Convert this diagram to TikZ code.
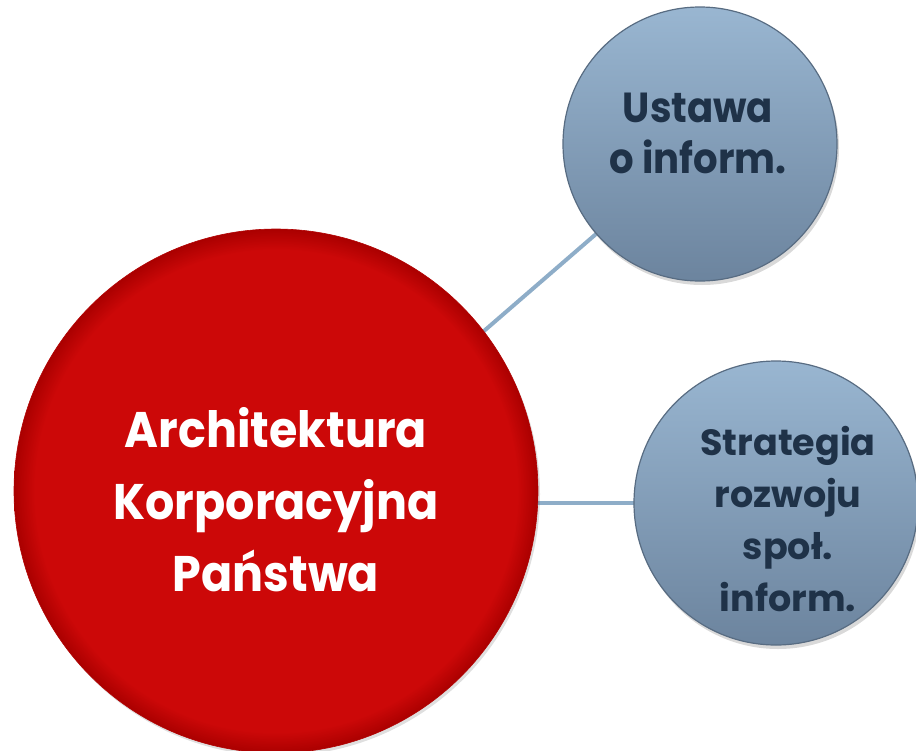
\documentclass[tikz,border=0pt]{standalone}
\usepackage{fontspec}
\setmainfont{Poppins}
\newfontfamily\narrowpop{Poppins}[FakeStretch=0.92]
\usetikzlibrary{shadows,backgrounds}
\definecolor{redfill}{RGB}{204,8,8}
\definecolor{reddark}{RGB}{170,0,0}
\definecolor{bluetop}{RGB}{153,182,209}
\definecolor{bluebot}{RGB}{108,132,158}
\definecolor{bluerim}{RGB}{88,108,130}
\definecolor{linkcol}{RGB}{142,173,200}
\definecolor{navy}{RGB}{31,50,72}
\pgfdeclareradialshading{redball}{\pgfpoint{0bp}{0bp}}{color(0bp)=(redfill); color(23bp)=(redfill); color(25bp)=(reddark); color(50bp)=(reddark)}
\tikzset{
  bigball/.style={circle, inner sep=0pt, shading=redball, draw=reddark!80!redfill, line width=0.6pt,
    drop shadow={opacity=0.25, shadow xshift=2pt, shadow yshift=-3pt}},
  blueball/.style={circle, inner sep=0pt, top color=bluetop, bottom color=bluebot, draw=bluerim, line width=1.2pt,
    drop shadow={opacity=0.3, shadow xshift=2pt, shadow yshift=-4pt}},
  redtext/.style={align=center, text=white, font=\narrowpop\fontsize{50}{72}\selectfont\bfseries},
  bluetextA/.style={align=center, text=navy, font=\narrowpop\fontsize{42}{51}\selectfont\bfseries},
  bluetextB/.style={align=center, text=navy, font=\fontsize{36.5}{52}\selectfont\bfseries},
  link/.style={draw=linkcol, line width=4pt}
}
\begin{document}
\begin{tikzpicture}[x=1pt,y=-1pt]
\useasboundingbox (0,0) rectangle (916,750);
\clip (0,0) rectangle (916,750);
\node[bigball, minimum size=524pt] (kap) at (276,491) {};
\node[blueball, minimum size=274pt] (ustawa) at (700,144) {};
\node[blueball, minimum size=284pt] (strategia) at (776,503) {};
\begin{scope}[on background layer]
\draw[link] (ustawa.center) -- ([yshift=-20pt]kap.center);
\draw[link] (strategia.center) -- (strategia.center -| kap.center);
\end{scope}
\node[redtext] (kaptext) at (276,500) {Architektura\\Korporacyjna\\Państwa};
\node[bluetextA] (ustawatext) at (698,133) {Ustawa\\o inform.};
\node[bluetextB] (strategiatext) at (788,519) {Strategia\\rozwoju\\społ.\\inform.};
\end{tikzpicture}
\end{document}
